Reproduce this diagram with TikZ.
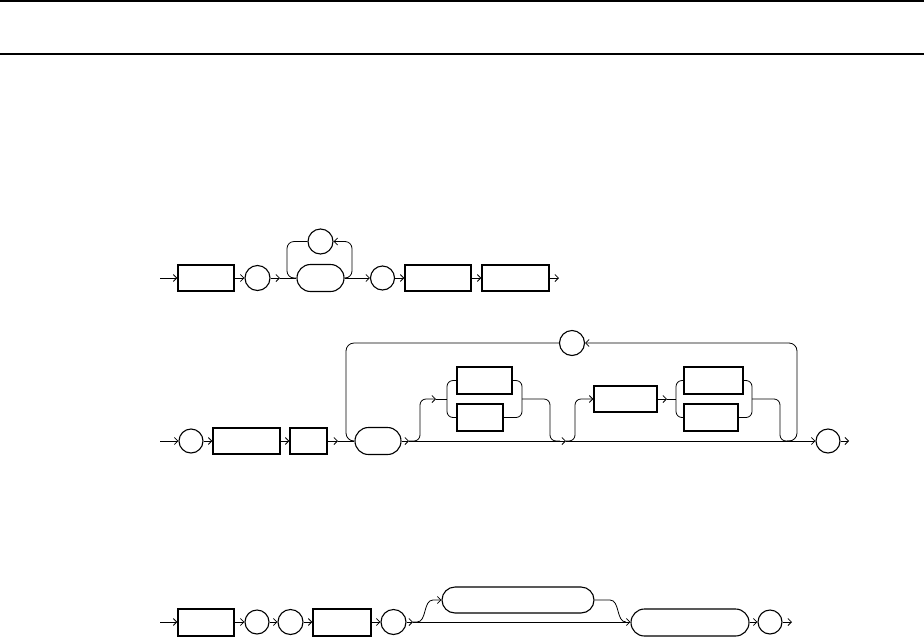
\documentclass[tikz,border=0pt]{standalone}
\usetikzlibrary{arrows.meta,shapes.misc}
\begin{document}
\begin{tikzpicture}[x=1pt,y=-1pt,
  conn/.style={line width=0.8pt},
  arr/.style={conn,-{Straight Barb[length=3.5pt,width=7pt]}},
  rbox/.style={draw,line width=1.3pt,rectangle,inner sep=0pt},
  rcirc/.style={draw,line width=1.1pt,circle,inner sep=0pt,minimum size=24pt},
  rstad/.style={draw,line width=1.1pt,rounded rectangle,inner sep=0pt},
  rule/.style={line width=1.2pt},
  rc/.style={rounded corners=6pt}]
\useasboundingbox (0,0) rectangle (924,638);
% rules
\coordinate (t1l) at (0,1);  \coordinate (t1r) at (924,1);
\coordinate (t2l) at (0,54); \coordinate (t2r) at (924,54);
\draw[rule] (t1l) -- (t1r);
\draw[rule] (t2l) -- (t2r);

% ---------- row 1 ----------
\coordinate (s1) at (160,278);
\node[rbox,minimum width=56pt,minimum height=26pt] (b11) at (206,278) {};
\node[rcirc,minimum size=25pt] (c11) at (257.5,278) {};
\coordinate (j1a) at (280,278);
\node[rstad,minimum width=47pt,minimum height=27pt] (st1) at (320.5,278) {};
\node[rcirc,minimum size=25pt] (c1l) at (320.5,241.5) {};
\node[rcirc] (c12) at (382.5,278) {};
\node[rbox,minimum width=66pt,minimum height=26pt] (b12) at (438,278) {};
\node[rbox,minimum width=67pt,minimum height=26pt] (b13) at (515.5,278) {};
\coordinate (e1) at (559,278);
\coordinate (l1a) at (287,241.5); \coordinate (l1b) at (287,278);
\coordinate (l1c) at (352,278);   \coordinate (l1d) at (352,241.5);

\draw[arr] (s1) -- (b11.west);
\draw[arr] (b11.east) -- (c11.west);
\draw[arr] (c11.east) -- (j1a);
\draw[conn] (j1a) -- (st1.west);
\draw[conn,rounded corners=7pt] (c1l.west) -- (l1a) -- (l1b) -- (st1.west);
\draw[arr,rounded corners=7pt] (st1.east) -- (l1c) -- (l1d) -- (c1l.east);
\draw[arr] (st1.east) -- (c12.west);
\draw[arr] (c12.east) -- (b12.west);
\draw[arr] (b12.east) -- (b13.west);
\draw[arr] (b13.east) -- (e1);

% ---------- row 2 ----------
\coordinate (s2) at (160,441);
\node[rcirc] (c21) at (191,441) {};
\node[rbox,minimum width=67pt,minimum height=26pt] (b21) at (246.5,441) {};
\node[rbox,minimum width=37pt,minimum height=26pt] (b22) at (308.5,441) {};
\coordinate (j2a) at (338,441);
\node[rstad,minimum width=46pt,minimum height=27pt] (st2) at (378,441) {};
\coordinate (j2b) at (409,441);
\node[rcirc,minimum size=25pt] (c2l) at (572,343) {};
\node[rbox,minimum width=55pt,minimum height=27pt] (b23) at (484.5,380.5) {};
\node[rbox,minimum width=46pt,minimum height=27pt] (b24) at (480,417.5) {};
\coordinate (j2c) at (566,441);
\node[rbox,minimum width=63pt,minimum height=26pt] (b25) at (625.5,399) {};
\node[rbox,minimum width=59pt,minimum height=27pt] (b26) at (713.5,380.5) {};
\node[rbox,minimum width=54pt,minimum height=27pt] (b27) at (711,417.5) {};
\node[rcirc] (c22) at (828,441) {};
\coordinate (e2) at (849,441);

\draw[arr] (s2) -- (c21.west);
\draw[arr] (c21.east) -- (b21.west);
\draw[arr] (b21.east) -- (b22.west);
\draw[arr] (b22.east) -- (j2a);
\draw[conn] (j2a) -- (st2.west);
\draw[arr] (st2.east) -- (j2b);
\draw[arr] (j2b) -- (j2c);
\draw[arr] (j2c) -- (c22.west);
\draw[arr] (c22.east) -- (e2);
% loop
\coordinate (lp1) at (787,441); \coordinate (lp2) at (797,441);
\coordinate (lp3) at (797,343); \coordinate (lp4) at (346,343);
\coordinate (lp5) at (346,441);
\draw[arr,rounded corners=8pt] (lp1) -- (lp2) -- (lp3) -- (c2l.east);
\draw[conn,rounded corners=8pt] (c2l.west) -- (lp4) -- (lp5) -- (st2.west);
% group 1
\coordinate (g1a) at (420,441); \coordinate (g1b) at (420,399);
\coordinate (g1c) at (436,399); \coordinate (g1d) at (447,399);
\coordinate (g1e) at (447,380.5); \coordinate (g1f) at (447,417.5);
\coordinate (g1g) at (522,380.5); \coordinate (g1h) at (522,417.5);
\coordinate (g1i) at (522,399); \coordinate (g1j) at (550,399);
\coordinate (g1k) at (550,441); \coordinate (g1l) at (560,441);
\draw[arr,rc] (j2b) -- (g1a) -- (g1b) -- (g1c);
\draw[conn] (g1c) -- (g1d);
\draw[conn,rc] (b23.west) -- (g1e) -- (g1f) -- (b24.west);
\draw[conn,rc] (b23.east) -- (g1g) -- (g1h) -- (b24.east);
\draw[conn,rc] (g1i) -- (g1j) -- (g1k) -- (g1l);
% group 2
\coordinate (g2a) at (575,441); \coordinate (g2b) at (575,399);
\coordinate (g2c) at (667,399); \coordinate (g2d) at (676,399);
\coordinate (g2e) at (676,380.5); \coordinate (g2f) at (676,417.5);
\coordinate (g2g) at (752,380.5); \coordinate (g2h) at (752,417.5);
\coordinate (g2i) at (752,399); \coordinate (g2j) at (780,399);
\coordinate (g2k) at (780,441); \coordinate (g2l) at (790,441);
\draw[arr,rc] (j2c) -- (g2a) -- (g2b) -- (b25.west);
\draw[arr] (b25.east) -- (g2c);
\draw[conn] (g2c) -- (g2d);
\draw[conn,rc] (b26.west) -- (g2e) -- (g2f) -- (b27.west);
\draw[conn,rc] (b26.east) -- (g2g) -- (g2h) -- (b27.east);
\draw[conn,rc] (g2i) -- (g2j) -- (g2k) -- (g2l);

% ---------- row 3 ----------
\coordinate (s3) at (160,622);
\node[rbox,minimum width=56pt,minimum height=27pt] (b31) at (206,622.5) {};
\node[rcirc] (c31) at (257,622) {};
\node[rcirc,minimum size=25pt] (c32) at (290.5,622) {};
\node[rbox,minimum width=58pt,minimum height=27pt] (b32) at (342,622.5) {};
\node[rcirc,minimum size=25pt] (c33) at (393.5,622) {};
\coordinate (j3a) at (413,622);
\node[rstad,minimum width=152pt,minimum height=26pt] (st31) at (518,600) {};
\node[rstad,minimum width=118pt,minimum height=27pt] (st32) at (690,622.5) {};
\node[rcirc] (c34) at (770,622) {};
\coordinate (e3) at (792,622);
\coordinate (k1) at (417,622); \coordinate (k2) at (433,600);
\coordinate (k3) at (610,600); \coordinate (k4) at (626,622);

\draw[arr] (s3) -- (b31.west |- s3);
\draw[arr] (b31.east |- s3) -- (c31.west);
\draw[arr] (c31.east) -- (c32.west);
\draw[arr] (c32.east) -- (b32.west |- s3);
\draw[arr] (b32.east |- s3) -- (c33.west);
\draw[arr] (c33.east) -- (j3a);
\draw[arr] (j3a) -- (st32.west |- j3a);
\draw[arr] (j3a) -- (k1) .. controls (427,622) and (423,600) .. (k2) -- (st31.west);
\draw[conn] (st31.east) -- (k3) .. controls (620,600) and (616,622) .. (k4);
\draw[arr] (st32.east |- j3a) -- (c34.west);
\draw[arr] (c34.east) -- (e3);
\end{tikzpicture}
\end{document}
